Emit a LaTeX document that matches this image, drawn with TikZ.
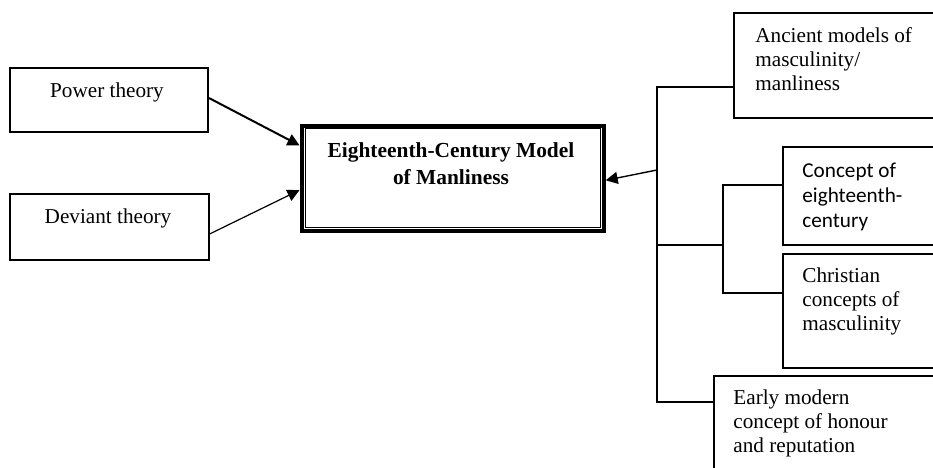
\documentclass[tikz,border=0pt]{standalone}
\usepackage{fontspec}
\setmainfont{Liberation Serif}
\newfontfamily\calibrifont{Carlito}
\usetikzlibrary{arrows.meta,calc}
\begin{document}
\begin{tikzpicture}[x=0.5pt,y=-0.5pt,
  box/.style={draw,line width=1pt,anchor=north west,inner sep=0pt},
  lbl/.style={inner sep=0pt,align=left,font=\fontsize{10.6}{12}\selectfont},
  link/.style={line width=1pt},
  arr/.style={-{Triangle[length=6pt,width=6pt]}}]
\useasboundingbox (0,0) rectangle (933,467);
\clip (0,0) rectangle (933,467);
% left boxes
\node[box,minimum width=99pt,minimum height=32pt] (power) at (9,67) {};
\node[box,minimum width=99.5pt,minimum height=33pt] (deviant) at (9,193) {};
\node[lbl,anchor=base] (powert) at (107,97) {Power theory};
\node[lbl,anchor=base] (deviantt) at (108,223) {Deviant theory};
% centre box
\node[draw,line width=2.1pt,anchor=north west,inner sep=0pt,minimum width=151pt,minimum height=52.5pt] (center) at (299.5,123.5) {};
\draw[line width=0.5pt] ([shift={(5.5,5)}]center.north west) rectangle ([shift={(-5.5,-5)}]center.south east);
\node[inner sep=0pt,align=center,font=\fontsize{10.7}{13.5}\selectfont\bfseries,anchor=base] (centert) at (451,184) {Eighteenth-Century Model\\of Manliness};
% right boxes
\node[box,minimum width=120pt,minimum height=52.5pt] (ancient) at (733,12) {};
\node[box,minimum width=95pt,minimum height=49pt] (concept) at (782,146) {};
\node[box,minimum width=95pt,minimum height=57pt] (christian) at (782,253) {};
\node[box,minimum width=130pt,minimum height=70pt] (early) at (713,375) {};
\node[lbl,anchor=base west] (ancientt) at (755,90) {Ancient models of\\masculinity/\\manliness};
\node[lbl,anchor=base west,font=\fontsize{10.6}{12.5}\calibrifont] (conceptt) at (802,227) {Concept of\\eighteenth-\\century};
\node[lbl,anchor=base west] (christiant) at (802,330) {Christian\\concepts of\\masculinity};
\node[lbl,anchor=base west] (earlyt) at (733,452) {Early modern\\concept of honour\\and reputation};
% arrows into centre
\draw[arr,line width=1pt] ($(power.north east)!0.47!(power.south east)$) -- ($(center.north west)!0.2!(center.south west)$);
\draw[arr,line width=0.6pt] ($(deviant.north east)!0.6!(deviant.south east)$) -- ($(center.north west)!0.61!(center.south west)$);
% trunk
\coordinate (tA) at (657,87);
\coordinate (tM) at (657,245);
\coordinate (tE) at (657,402);
\coordinate (tR) at (657,170);
\coordinate (bT) at (723,185);
\coordinate (bB) at (723,293);
\draw[link] (tA -| ancient.west) -- (tA) -- (tE) -- (tE -| early.west);
\draw[link] (tM) -- (tM -| bT);
\draw[link] (bT -| concept.west) -- (bT) -- (bB) -- (bB -| christian.west);
\draw[arr,line width=0.7pt] (tR) -- ($(center.north east)!0.52!(center.south east)$);
\end{tikzpicture}
\end{document}
